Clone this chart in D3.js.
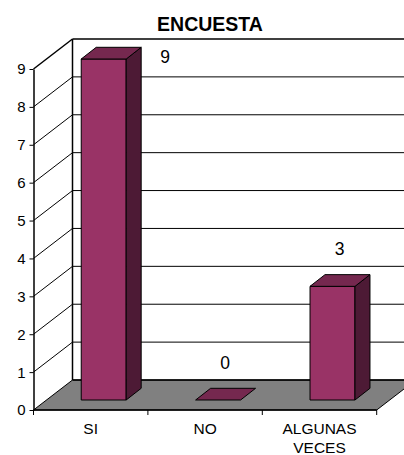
<!DOCTYPE html>
<html><head><meta charset="utf-8">
<script src="https://cdn.jsdelivr.net/npm/d3@7"></script>
<style>body{margin:0;background:#fff}svg{display:block}text{font-family:"Liberation Sans",Arial,sans-serif}</style>
</head><body>
<script>
const title = "ENCUESTA";
const categories = ["SI", "NO", "ALGUNAS VECES"];
const values = [9, 0, 3];
const yTicks = [0,1,2,3,4,5,6,7,8,9];

const W = 404, H = 455;
const svg = d3.select("body").append("svg").attr("width", W).attr("height", H);

const x = d3.scaleBand().domain(categories).range([33.5, 376.7]);
const y = d3.scaleLinear().domain([0, 9]).range([410, 69]);
const DX = 39, DY = 30;            // full depth of the floor
const bx = 13, by = 10;            // bar front-face depth offset
const bdx = 15, bdy = 11.7;        // bar depth
const barW = x.bandwidth() * 0.393;

const x0 = x.range()[0], x1 = x.range()[1];
const yTop = y(9), yBase = y(0);

// left wall
svg.append("path").attr("d", `M${x0},${yBase}L${x0},${yTop}L${x0+DX},${yTop-DY}L${x0+DX},${yBase-DY}Z`).attr("fill","#fff");
// floor
svg.append("path").attr("d", `M${x0},${yBase}L${x1},${yBase}L${x1+DX},${yBase-DY}L${x0+DX},${yBase-DY}Z`)
  .attr("fill","#808080").attr("stroke","#000").attr("stroke-width",1);

// gridlines: diagonal on left wall + horizontal on back wall
yTicks.forEach(t => {
  if (t > 0) {
    svg.append("line").attr("x1",x0).attr("y1",y(t)).attr("x2",x0+DX).attr("y2",y(t)-DY)
      .attr("stroke","#000").attr("stroke-width", t===9?1.5:1);
    svg.append("line").attr("x1",x0+DX).attr("y1",y(t)-DY).attr("x2",x1+DX+10).attr("y2",y(t)-DY)
      .attr("stroke","#000").attr("stroke-width", t===9?1.5:1);
  }
});
// back wall left edge
svg.append("line").attr("x1",x0+DX).attr("y1",yTop-DY).attr("x2",x0+DX).attr("y2",yBase-DY).attr("stroke","#000").attr("stroke-width",1.5);
svg.append("line").attr("x1",x0+DX).attr("y1",yBase-DY).attr("x2",x1+DX+10).attr("y2",yBase-DY).attr("stroke","#000").attr("stroke-width",1.5);

// y axis
const yAxis = svg.append("g").attr("transform",`translate(${x0},0)`)
  .call(d3.axisLeft(y).tickValues(yTicks).tickSize(4).tickSizeOuter(0).tickFormat(d3.format("d")));
yAxis.select(".domain").attr("stroke","#000").attr("stroke-width",1.5);
yAxis.selectAll(".tick line").attr("stroke","#000");
yAxis.selectAll(".tick text").attr("font-size",15).attr("fill","#000").attr("font-family","Liberation Sans, Arial, sans-serif").attr("x",-8).attr("dy","0.33em");

// x axis ticks at category boundaries
const bounds = categories.map(c => x(c)).concat([x1]);
svg.selectAll(".xt").data(bounds).enter().append("line")
  .attr("x1",d=>d).attr("x2",d=>d).attr("y1",yBase).attr("y2",yBase+5).attr("stroke","#000");
svg.append("line").attr("x1",x0).attr("x2",x1).attr("y1",yBase).attr("y2",yBase).attr("stroke","#000").attr("stroke-width",1.5);

// category labels
categories.forEach(c => {
  const words = c.split(" ");
  const t = svg.append("text").attr("text-anchor","middle").attr("font-size",15.5).attr("fill","#000");
  words.forEach((w,i) => t.append("tspan").attr("x", x(c)+x.bandwidth()/2).attr("y", 434 + i*19).text(w));
});

// bars
const bars = categories.map((c,i) => {
  const cx = x(c) + x.bandwidth()/2 + bx;
  const l = cx - barW/2, r = cx + barW/2;
  const b = y(0) - by, t = y(values[i]) - by;
  return {c, v: values[i], l, r, b, t};
});
bars.forEach(d => {
  if (d.t < d.b) {
    svg.append("path").attr("d",`M${d.l},${d.b}L${d.r},${d.b}L${d.r},${d.t}L${d.l},${d.t}Z`)
      .attr("fill","#993366").attr("stroke","#000").attr("stroke-width",1);
    svg.append("path").attr("d",`M${d.r},${d.b}L${d.r+bdx},${d.b-bdy}L${d.r+bdx},${d.t-bdy}L${d.r},${d.t}Z`)
      .attr("fill","#4d1a35").attr("stroke","#000").attr("stroke-width",1);
  }
  svg.append("path").attr("d",`M${d.l},${d.t}L${d.r},${d.t}L${d.r+bdx},${d.t-bdy}L${d.l+bdx},${d.t-bdy}Z`)
    .attr("fill","#75284f").attr("stroke","#000").attr("stroke-width",1);
  // data label
  let lx = (d.l + d.r)/2 + 7, ly = d.t - 31;
  if (ly < 62) { ly = 62.5; lx = d.r + bdx + 24; }
  svg.append("text").attr("x",lx).attr("y",ly).attr("text-anchor","middle").attr("font-size",17.5).attr("fill","#000").text(d.v);
});

// title
svg.append("text").attr("x",210).attr("y",31).attr("text-anchor","middle").attr("font-size",19.5).attr("font-weight","bold").attr("fill","#000").text(title);
</script>
</body></html>
